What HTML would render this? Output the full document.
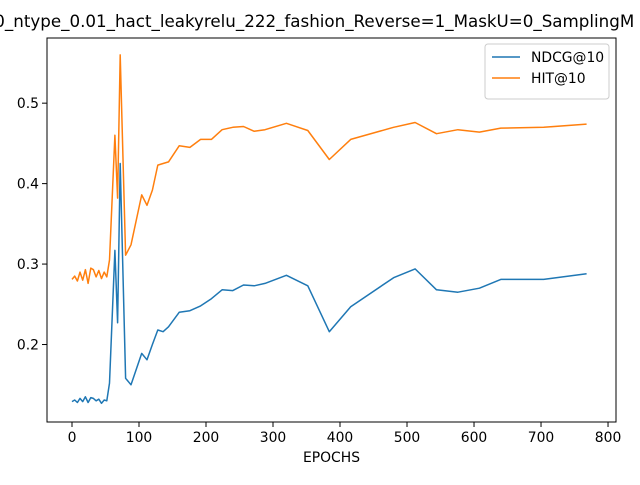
<!DOCTYPE html>
<html><head><meta charset="utf-8"><style>body{margin:0;background:#fff}svg{font-family:"DejaVu Sans","Liberation Sans",sans-serif}</style></head>
<body>
<svg id="chart" width="640" height="480" viewBox="0 0 640 480">
<text x="-11" y="27" font-size="16.7">.0_ntype_0.01_hact_leakyrelu_222_fashion_Reverse=1_MaskU=0_SamplingM</text>
<g id="plot"></g>
</svg>
<script>
const epochs=[0,4,8,12,16,20,24,28,32,36,40,44,48,52,56,64,68,72,80,88,104,112,120,128,136,144,160,176,192,208,224,240,256,272,288,320,352,384,416,480,512,544,576,608,640,704,768];
const ndcg=[0.129,0.131,0.128,0.133,0.129,0.135,0.128,0.134,0.133,0.130,0.132,0.127,0.131,0.130,0.152,0.317,0.227,0.425,0.158,0.150,0.189,0.181,0.200,0.218,0.216,0.222,0.240,0.242,0.248,0.257,0.268,0.267,0.274,0.273,0.276,0.286,0.273,0.216,0.247,0.283,0.294,0.268,0.265,0.270,0.281,0.281,0.288];
const hit=[0.281,0.285,0.279,0.290,0.280,0.293,0.276,0.295,0.293,0.284,0.292,0.282,0.290,0.284,0.305,0.460,0.382,0.560,0.311,0.324,0.386,0.373,0.392,0.423,0.425,0.427,0.447,0.445,0.455,0.455,0.467,0.470,0.471,0.465,0.467,0.475,0.466,0.430,0.455,0.470,0.476,0.462,0.467,0.464,0.469,0.470,0.474];
const xTicks=[0,100,200,300,400,500,600,700,800];
const yTicks=[0.2,0.3,0.4,0.5];
const L=47,R=616,T=38,B=422,X0=-37.3,X1=811.9,Y0=0.1037,Y1=0.581;
const sx=v=>L+(v-X0)/(X1-X0)*(R-L);
const sy=v=>B-(v-Y0)/(Y1-Y0)*(B-T);
const g=document.getElementById('plot');
const NS='http://www.w3.org/2000/svg';
function mk(t,a){const e=document.createElementNS(NS,t);for(const k in a)e.setAttribute(k,a[k]);g.appendChild(e);return e;}
const frame=mk('rect',{x:L,y:T,width:R-L,height:B-T,fill:'none',stroke:'#000','stroke-width':1});


xTicks.forEach(v=>{const x=sx(v);
const l=mk('line',{x1:x,x2:x,y1:B,y2:B+5,stroke:'#000'});


const t=mk('text',{x:x,y:B+20,'font-size':13.9,'text-anchor':'middle'});t.textContent=v;

});
yTicks.forEach(v=>{const y=sy(v);
const l=mk('line',{x1:L-5,x2:L,y1:y,y2:y,stroke:'#000'});


const t=mk('text',{x:L-8,y:y+5,'font-size':13.9,'text-anchor':'end'});t.textContent=v.toFixed(1);

});
const xl=mk('text',{x:(L+R)/2,y:462,'font-size':13.9,'text-anchor':'middle'});xl.textContent='EPOCHS';


function series(vals,color,name){const d=epochs.map((e,i)=>(i?'L':'M')+sx(e).toFixed(1)+','+sy(vals[i]).toFixed(1)).join('');
const p=mk('path',{d:d,fill:'none',stroke:color,'stroke-width':1.5,'stroke-linejoin':'round'});

}
series(ndcg,'#1f77b4','ndcg-line');
series(hit,'#ff7f0e','hit-line');
const lg=mk('rect',{x:485,y:44,width:124,height:55,rx:3,fill:'#fff',stroke:'#ccc'});


[['NDCG@10','#1f77b4',57],['HIT@10','#ff7f0e',78]].forEach(([n,c,y])=>{
const l=mk('line',{x1:492,x2:520,y1:y,y2:y,stroke:c,'stroke-width':1.5});


const t=mk('text',{x:531,y:y+5,'font-size':13.9});t.textContent=n;

});
</script>
</body></html>
